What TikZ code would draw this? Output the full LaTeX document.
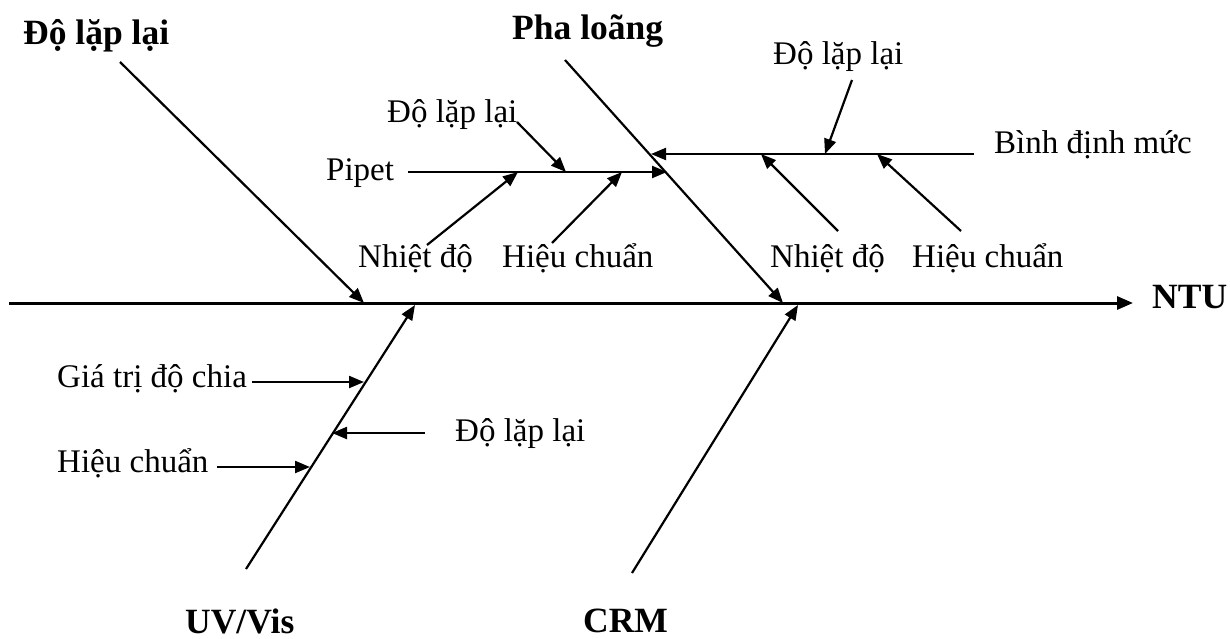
\documentclass[tikz,border=0pt]{standalone}
\usepackage{fontspec}
\setmainfont{Liberation Serif}
\usetikzlibrary{arrows.meta}
\tikzset{
  lbl/.style={inner sep=0pt, anchor=base west, font=\fontsize{33}{40}\selectfont},
  head/.style={inner sep=0pt, anchor=base west, font=\fontsize{35.5}{42}\selectfont\bfseries},
  spine/.style={line width=3pt, -{Triangle[length=16pt,width=13pt]}},
  cause/.style={line width=2.2pt, -{Triangle[length=15pt,width=12pt]}},
}
\begin{document}
\begin{tikzpicture}[x=1pt,y=-1pt]
\useasboundingbox (0,0) rectangle (1230,639);
% labels
\node[head] (h1) at (23,45) {Độ lặp lại};
\node[head] (h2) at (512,40) {Pha loãng};
\node[head] (ntu) at (1152,308) {NTU};
\node[head] (uv) at (185,633) {UV/Vis};
\node[head] (crm) at (583,632) {CRM};
\node[lbl] (pip) at (326,181) {Pipet};
\node[lbl] (pdl) at (387,123) {Độ lặp lại};
\node[lbl] (pnd) at (358,267) {Nhiệt độ};
\node[lbl] (phc) at (502,267) {Hiệu chuẩn};
\node[lbl] (bdm) at (994,154) {Bình định mức};
\node[lbl] (bdl) at (773,65) {Độ lặp lại};
\node[lbl] (bnd) at (770,267) {Nhiệt độ};
\node[lbl] (bhc) at (912,267) {Hiệu chuẩn};
\node[lbl] (gtd) at (57,387) {Giá trị độ chia};
\node[lbl] (udl) at (455,441) {Độ lặp lại};
\node[lbl] (uhc) at (57,472) {Hiệu chuẩn};
% coordinates
\coordinate (s0) at (9,303);
\coordinate (s1) at (1133,303);
\coordinate (a0) at (120,62);   \coordinate (a1) at (364,303);
\coordinate (b0) at (565,60);   \coordinate (b1) at (783,303);
\coordinate (c0) at (246,569);  \coordinate (c1) at (415,305);
\coordinate (d0) at (632,573);  \coordinate (d1) at (798,305);
\coordinate (p0) at (408,172);  \coordinate (p1) at (667,172);
\coordinate (q0) at (974,154);  \coordinate (q1) at (651,154);
\coordinate (pdl0) at (517,122); \coordinate (pdl1) at (566,172);
\coordinate (pnd0) at (427,245); \coordinate (pnd1) at (518,172);
\coordinate (phc0) at (552,243); \coordinate (phc1) at (622,172);
\coordinate (bdl0) at (852,80);  \coordinate (bdl1) at (825,154);
\coordinate (bnd0) at (838,231); \coordinate (bnd1) at (761,154);
\coordinate (bhc0) at (961,231); \coordinate (bhc1) at (877,154);
\coordinate (gtd0) at (252,382); \coordinate (gtd1) at (364,382);
\coordinate (udl0) at (425,433); \coordinate (udl1) at (332,433);
\coordinate (uhc0) at (217,467); \coordinate (uhc1) at (310,467);
% spine and bones
\draw[spine] (s0) -- (s1);
\draw[cause] (a0) -- (a1);
\draw[cause] (b0) -- (b1);
\draw[cause] (c0) -- (c1);
\draw[cause] (d0) -- (d1);
\draw[cause] (p0) -- (p1);
\draw[cause] (q0) -- (q1);
\draw[cause] (pdl0) -- (pdl1);
\draw[cause] (pnd0) -- (pnd1);
\draw[cause] (phc0) -- (phc1);
\draw[cause] (bdl0) -- (bdl1);
\draw[cause] (bnd0) -- (bnd1);
\draw[cause] (bhc0) -- (bhc1);
\draw[cause] (gtd0) -- (gtd1);
\draw[cause] (udl0) -- (udl1);
\draw[cause] (uhc0) -- (uhc1);
\end{tikzpicture}
\end{document}
